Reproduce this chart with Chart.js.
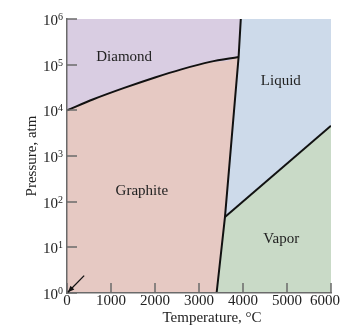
<!DOCTYPE html>
<html lang="en">
<head>
<meta charset="UTF-8">
<title>Carbon Phase Diagram</title>
<script src="https://cdn.jsdelivr.net/npm/chart.js"></script>
<style>
    html, body { margin: 0; padding: 0; background: #fff; }
    #wrap { width: 344px; height: 330px; position: relative; }
</style>
</head>
<body>
<div id="wrap"><canvas id="phaseChart"></canvas></div>
<script>
// phase boundaries, temperature in degC, pressure in atm
const diamondT = [0, 600, 1300, 2000, 2600, 3250, 3900];
const diamondP = [1e4, 1.75e4, 3.1e4, 5.25e4, 7.9e4, 1.15e5, 1.47e5];
const meltT = [3400, 3590, 3900, 3950];
const meltP = [1, 46, 1.47e5, 1e6];
const vaporT = [3590, 6000];
const vaporP = [46, 4600];

const xTicks = [0, 1000, 2000, 3000, 4000, 5000, 6000];
const yTicks = [1, 10, 100, 1000, 1e4, 1e5, 1e6];
const yExp = ['0', '1', '2', '3', '4', '5', '6'];

// region names and where they sit
const regionNames = ['Diamond', 'Liquid', 'Graphite', 'Vapor'];
const regionT = [1300, 4860, 1700, 4870];
const regionP = [1.5e5, 4.4e4, 171, 15];

const SERIF = '"Liberation Serif", "DejaVu Serif", serif';
const INK = '#222';
const AXIS = '#6a6a6a';

function pts(ts, ps) {
    return ts.map((t, i) => ({ x: t, y: ps[i] }));
}

const colors = {
    liquid: '#cddaea',
    graphite: '#e6c9c3',
    diamond: '#d9cde2',
    vapor: '#c9dac7'
};

// background = liquid region
const bgPlugin = {
    id: 'bg',
    beforeDatasetsDraw(chart) {
        const a = chart.chartArea, ctx = chart.ctx;
        ctx.save();
        ctx.fillStyle = colors.liquid;
        ctx.fillRect(a.left, a.top, a.right - a.left, a.bottom - a.top);
        ctx.restore();
    }
};

// tick marks, tick labels, region names and the arrow
const decoPlugin = {
    id: 'deco',
    afterDraw(chart) {
        const ctx = chart.ctx, xs = chart.scales.x, ys = chart.scales.y, a = chart.chartArea;
        ctx.save();
        ctx.strokeStyle = AXIS;
        ctx.lineWidth = 1.5;
        xTicks.forEach(t => {
            const px = Math.round(xs.getPixelForValue(t));
            ctx.beginPath();
            ctx.moveTo(px, a.bottom);
            ctx.lineTo(px, a.bottom - 10);
            ctx.stroke();
        });
        yTicks.forEach(p => {
            const py = Math.round(ys.getPixelForValue(p));
            ctx.beginPath();
            ctx.moveTo(a.left, py);
            ctx.lineTo(a.left + 10, py);
            ctx.stroke();
        });

        ctx.fillStyle = INK;
        ctx.font = '15px ' + SERIF;
        ctx.textBaseline = 'alphabetic';
        ctx.textAlign = 'center';
        xTicks.forEach(t => {
            let px = xs.getPixelForValue(t);
            const w = ctx.measureText(String(t)).width;
            if (px + w / 2 > chart.width - 4) px = chart.width - 4 - w / 2;
            ctx.fillText(String(t), px, a.bottom + 12);
        });

        yTicks.forEach((p, i) => {
            const py = ys.getPixelForValue(p);
            ctx.font = '15px ' + SERIF;
            ctx.textAlign = 'right';
            ctx.fillText('10', a.left - 9, py + 6);
            ctx.font = '10px ' + SERIF;
            ctx.textAlign = 'left';
            ctx.fillText(yExp[i], a.left - 9, py + 1);
        });

        ctx.font = '15px ' + SERIF;
        ctx.textAlign = 'center';
        ctx.textBaseline = 'middle';
        regionNames.forEach((name, i) => {
            ctx.fillText(name, xs.getPixelForValue(regionT[i]), ys.getPixelForValue(regionP[i]));
        });

        // arrow pointing at the origin
        const x0 = xs.getPixelForValue(390), y0 = ys.getPixelForValue(2.4);
        const x1 = xs.getPixelForValue(20), y1 = ys.getPixelForValue(1.04);
        const ang = Math.atan2(y1 - y0, x1 - x0);
        ctx.strokeStyle = '#111';
        ctx.fillStyle = '#111';
        ctx.lineWidth = 1.3;
        ctx.beginPath();
        ctx.moveTo(x0, y0);
        ctx.lineTo(x1, y1);
        ctx.stroke();
        ctx.beginPath();
        ctx.moveTo(x1, y1);
        ctx.lineTo(x1 - 7 * Math.cos(ang - 0.4), y1 - 7 * Math.sin(ang - 0.4));
        ctx.lineTo(x1 - 7 * Math.cos(ang + 0.4), y1 - 7 * Math.sin(ang + 0.4));
        ctx.closePath();
        ctx.fill();

        // axis titles
        ctx.font = '15px ' + SERIF;
        ctx.fillStyle = INK;
        ctx.textAlign = 'center';
        ctx.textBaseline = 'middle';
        ctx.fillText('Temperature, \u00B0C', 212, 318);
        ctx.translate(32, (a.top + a.bottom) / 2);
        ctx.rotate(-Math.PI / 2);
        ctx.fillText('Pressure, atm', 0, 0);
        ctx.restore();
    }
};

const fillBase = { borderWidth: 0, pointRadius: 0, tension: 0 };
const lineBase = { borderColor: '#111', borderWidth: 2, pointRadius: 0, fill: false, tension: 0 };

new Chart(document.getElementById('phaseChart'), {
    type: 'line',
    data: {
        datasets: [
            // boundaries on top
            Object.assign({ data: pts(diamondT, diamondP), cubicInterpolationMode: 'monotone', order: 1 }, lineBase),
            Object.assign({ data: pts(meltT, meltP), order: 1 }, lineBase),
            Object.assign({ data: pts(vaporT, vaporP), order: 1 }, lineBase),
            // diamond: above the diamond/graphite curve
            Object.assign({
                data: pts(diamondT.concat(meltT.slice(-1)), diamondP.concat(meltP.slice(-1))),
                cubicInterpolationMode: 'monotone',
                backgroundColor: colors.diamond, fill: 'end', order: 3
            }, fillBase),
            // graphite: left of the melting line
            Object.assign({
                data: [{ x: xTicks[0], y: yTicks[0] }].concat(pts(meltT, meltP)),
                backgroundColor: colors.graphite, fill: 'end', order: 4
            }, fillBase),
            // vapor: below the sublimation / boiling lines
            Object.assign({
                data: pts(meltT.slice(0, 2), meltP.slice(0, 2)).concat(pts(vaporT.slice(1), vaporP.slice(1))),
                backgroundColor: colors.vapor, fill: 'start', order: 4
            }, fillBase)
        ]
    },
    options: {
        responsive: true,
        maintainAspectRatio: false,
        devicePixelRatio: 1,
        animation: false,
        layout: { padding: { top: 19, right: 13, left: 0, bottom: 0 } },
        plugins: { legend: { display: false }, tooltip: { enabled: false } },
        scales: {
            x: {
                type: 'linear', min: 0, max: 6000,
                grid: { display: false },
                border: { display: true, color: AXIS, width: 1.5, z: 1 },
                ticks: { display: false, stepSize: 1000 },
                afterFit: s => { s.height = 37; }
            },
            y: {
                type: 'logarithmic', min: 1, max: 1e6,
                grid: { display: false },
                border: { display: true, color: AXIS, width: 1.5, z: 1 },
                ticks: { display: false },
                afterFit: s => { s.width = 67; }
            }
        }
    },
    plugins: [bgPlugin, decoPlugin]
});
</script>
</body>
</html>
